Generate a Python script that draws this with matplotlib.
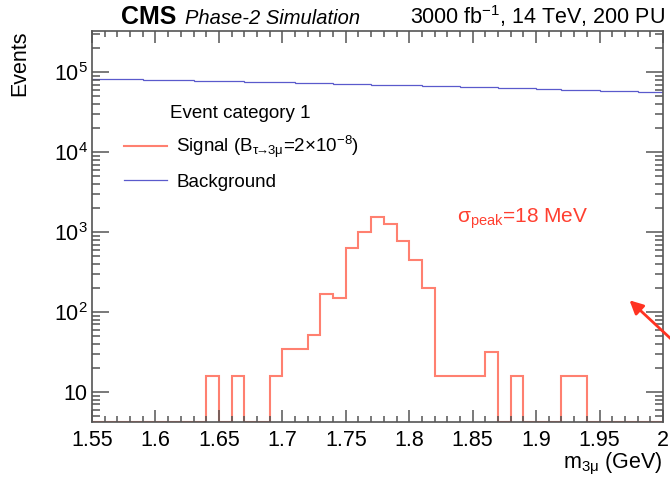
import numpy as np
import matplotlib
matplotlib.use("Agg")
import matplotlib.pyplot as plt
from matplotlib.ticker import MultipleLocator, FixedLocator, FixedFormatter, LogLocator, NullFormatter

plt.rcParams['font.family'] = ['Liberation Sans', 'DejaVu Sans']
plt.rcParams['mathtext.fontset'] = 'custom'
plt.rcParams['mathtext.rm'] = 'Liberation Sans'
plt.rcParams['mathtext.it'] = 'Liberation Sans:italic'
plt.rcParams['mathtext.bf'] = 'Liberation Sans:bold'

# binning: 45 bins of 10 MeV from 1.55 to 2.0 GeV
bin_lo = 1.55
bin_hi = 2.0
n_bins = 45

# signal yield per bin (B = 2e-8)
signal = [0, 0, 0, 0, 0, 0, 0, 0, 0,
          16, 0, 16, 0, 0, 16, 34, 34, 51, 170,
          152, 638, 1010, 1550, 1250, 773, 445, 202, 16, 16,
          16, 16, 32, 0, 16, 0, 0, 0, 16, 16,
          0, 0, 0, 0, 0, 0]

# background yield per bin
background = [83000, 82600, 82000, 81800, 81200, 80500, 80100, 79400, 78900,
              78000, 77600, 77000, 76500, 76000, 75400, 74900, 74000, 73500,
              72900, 72300, 71800, 71000, 70500, 69800, 69300, 68600, 68000,
              67500, 66700, 66200, 65500, 64800, 64200, 63500, 63000, 62300,
              61700, 61000, 60500, 59800, 59200, 58500, 57800, 57200, 56500]

y_lo, y_hi = 4.2, 3.3e5
edges = np.linspace(bin_lo, bin_hi, n_bins + 1)
sig = np.array(signal, dtype=float)
sig_plot = np.where(sig > 0, sig, y_lo)

fig = plt.figure(figsize=(6.7, 4.82), dpi=100)
ax = fig.add_axes([92/670, 1 - 422/482, 571/670, 391/482])

ax.stairs(background, edges, color='#5a5acc', lw=0.9, label='Background', baseline=None)
ax.stairs(sig_plot, edges, color='#ff8070', lw=1.5,
          label=r'Signal (B$_{\rm \tau\!\!\rightarrow\!\!3\mu}$=2$\times$10$^{\rm {-}8}$)', baseline=None)

ax.set_yscale('log')
ax.set_xlim(bin_lo, bin_hi)
ax.set_ylim(y_lo, y_hi)

ax.xaxis.set_minor_locator(MultipleLocator(0.01))
ax.set_xticks(np.arange(1.55, 2.001, 0.05))
ax.set_xticklabels(['1.55', '1.6', '1.65', '1.7', '1.75', '1.8', '1.85', '1.9', '1.95', '2'])
ax.yaxis.set_major_locator(FixedLocator([10, 1e2, 1e3, 1e4, 1e5]))
ax.yaxis.set_major_formatter(FixedFormatter(['10', r'10$^{2}$', r'10$^{3}$', r'10$^{4}$', r'10$^{5}$']))
ax.yaxis.set_minor_locator(LogLocator(base=10, subs=np.arange(2, 10), numticks=20))
ax.yaxis.set_minor_formatter(NullFormatter())

ax.tick_params(axis='both', which='both', direction='in', top=True, right=True,
               colors='#555555', labelcolor='black', labelsize=15.5)
ax.tick_params(axis='x', which='major', length=8.5, width=1.1, pad=6)
ax.tick_params(axis='x', which='minor', length=4.5, width=1.1)
ax.tick_params(axis='y', which='major', length=12, width=1.1, pad=3)
ax.tick_params(axis='y', which='minor', length=6, width=1.1)
for s in ax.spines.values():
    s.set_color('#555555')
    s.set_linewidth(1.2)

ax.set_xlabel(r'm$_{\rm 3\mu}$ (GeV)', loc='right', fontsize=15.5, labelpad=0)
ax.set_ylabel('Events', loc='top', fontsize=15.5)
ax.yaxis.set_label_coords(-0.108, 1.0)

# legend
h, l = ax.get_legend_handles_labels()
ax.text(0.137, 0.79, 'Event category 1', transform=ax.transAxes, fontsize=13.5, va='center')
ax.legend(h[::-1], l[::-1], loc='center left', bbox_to_anchor=(0.056, 0.664), frameon=False,
          fontsize=13.5, handlelength=2.3, handletextpad=0.5, labelspacing=0.7,
          borderpad=0, borderaxespad=0)

ax.text(1.8377, 1480, r'σ$_{\rm peak}$=18 MeV', color='#ff3f30', fontsize=15, va='center')
ax.annotate('', xy=(1.972, 148), xytext=(2.009, 42), annotation_clip=False,
            arrowprops=dict(arrowstyle='-|>', color='#ff3322', lw=2, mutation_scale=20))

fig.text(121/670, 1 - 24/482, 'CMS', fontsize=18, fontweight='bold', va='baseline')
fig.text(185/670, 1 - 24/482, 'Phase-2 Simulation', fontsize=14.5, style='italic', va='baseline')
fig.text(665/670, 1 - 24/482, r'3000 fb$^{\rm {-}1}$, 14 TeV, 200 PU', fontsize=15.5, ha='right', va='baseline')

fig.savefig('out.png', dpi=100)
